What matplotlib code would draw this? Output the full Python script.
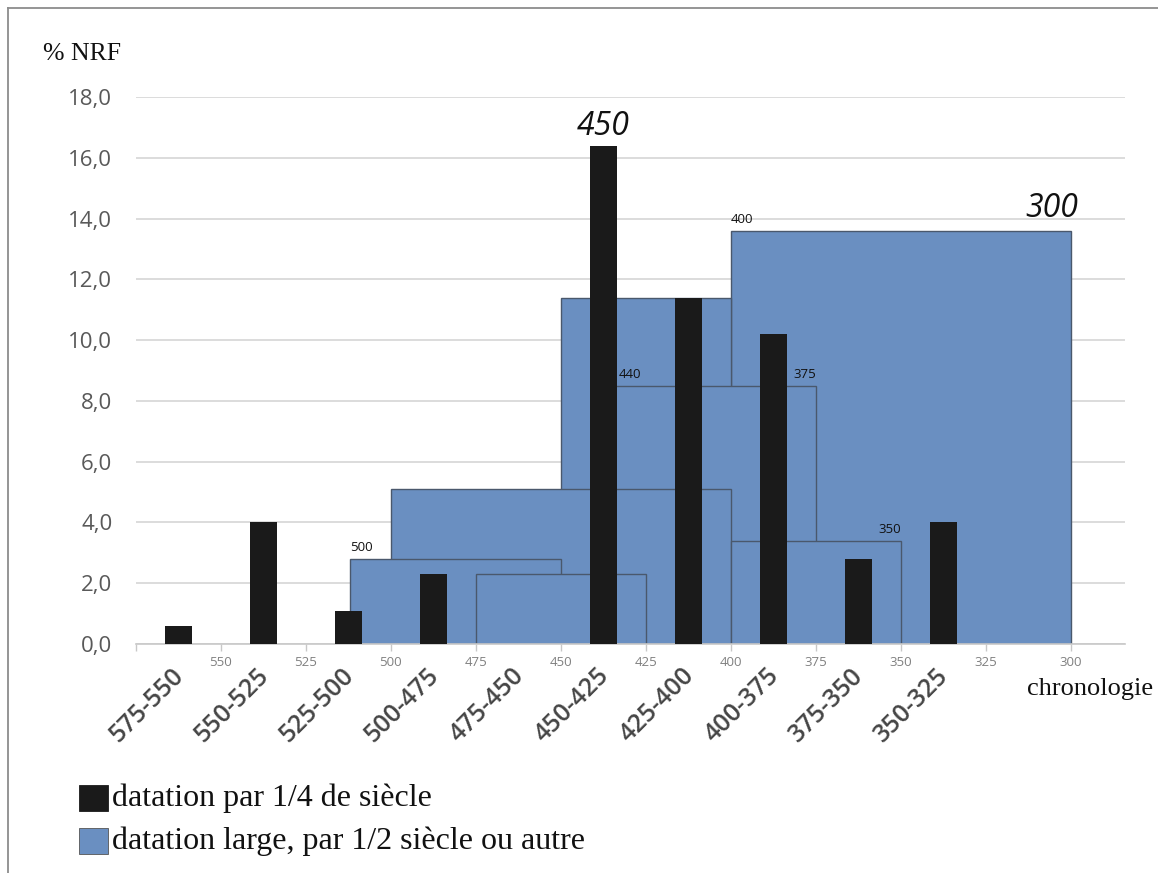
import matplotlib
matplotlib.use("Agg")
import matplotlib.pyplot as plt
from matplotlib.patches import Rectangle
from matplotlib.transforms import blended_transform_factory

# ---------------- data ----------------
periods = ['575-550', '550-525', '525-500', '500-475', '475-450',
           '450-425', '425-400', '400-375', '375-350', '350-325']
period_start = [575, 550, 525, 500, 475, 450, 425, 400, 375, 350]
period_end = [550, 525, 500, 475, 450, 425, 400, 375, 350, 325]
quarter_pct = [0.6, 4.0, 1.1, 2.3, 0.0, 16.4, 11.4, 10.2, 2.8, 4.0]

# broad datings (drawn in this order)
broad_start = [400, 450, 440, 500, 400, 512, 475]
broad_end = [300, 400, 375, 400, 350, 450, 425]
broad_pct = [13.6, 11.4, 8.5, 5.1, 3.4, 2.8, 2.3]

year_ticks = [575, 550, 525, 500, 475, 450, 425, 400, 375, 350, 325, 300]
year_ticklabels = ['', '550', '525', '500', '475', '450', '425', '400', '375', '350', '325', '300']
y_ticks = [0, 2, 4, 6, 8, 10, 12, 14, 16, 18]
y_ticklabels = ['0,0', '2,0', '4,0', '6,0', '8,0', '10,0', '12,0', '14,0', '16,0', '18,0']

legend_labels = ['datation par 1/4 de siècle', 'datation large, par 1/2 siècle ou autre']

# ---------------- style ----------------
BLUE = '#6a8fc1'
BLACK = '#1a1a1a'
EDGE = '#4a586c'
SANS = ['Open Sans', 'DejaVu Sans']
SERIF = ['Liberation Serif', 'DejaVu Serif']

W, H = 1158, 873
fig = plt.figure(figsize=(W / 100, H / 100), dpi=100)
fig.patch.set_facecolor('white')

def fx(px):
    return px / W

def fy(py):
    return 1 - py / H

ax = fig.add_axes([fx(136), fy(644), fx(1125) - fx(136), fy(97) - fy(644)])
ax.set_xlim(575, 284)
ax.set_ylim(0, 18)

for s in ['top', 'right', 'left']:
    ax.spines[s].set_visible(False)
ax.spines['bottom'].set_color('#c8c8c8')
ax.spines['bottom'].set_linewidth(1.2)

ax.set_yticks(y_ticks)
ax.set_yticklabels(y_ticklabels, family=SANS, fontsize=16, color='#595959')
ax.tick_params(axis='y', length=0, pad=17)
ax.set_xticks(year_ticks)
ax.set_xticklabels(year_ticklabels, family=SANS, fontsize=9.5, color='#808080')
ax.tick_params(axis='x', length=5, width=1, color='#c8c8c8', pad=4)
ax.grid(axis='y', color='#d9d9d9', linewidth=1.3)
ax.set_axisbelow(True)

# broad rectangles
for i, (a, b, v) in enumerate(zip(broad_start, broad_end, broad_pct)):
    ax.add_patch(Rectangle((b, 0), a - b, v, facecolor=BLUE, edgecolor=EDGE,
                           linewidth=1.0, zorder=2 + i * 0.01))

# quarter-century bars
centers = [(a + b) / 2 for a, b in zip(period_start, period_end)]
ax.bar(centers, quarter_pct, width=8.0, color=BLACK, zorder=3)

# small annotations on rectangles
small = dict(family=SANS, fontsize=9.5, color='#111111', zorder=5)
ax.text(400, 13.75, '400', ha='left', va='bottom', **small)
ax.text(433, 8.65, '440', ha='left', va='bottom', **small)
ax.text(375, 8.65, '375', ha='right', va='bottom', **small)
ax.text(350, 3.55, '350', ha='right', va='bottom', **small)
ax.text(512, 2.95, '500', ha='left', va='bottom', **small)

big = dict(family=SANS, fontsize=23, style='italic', color='#111111', zorder=5)
ax.text(437.5, 16.75, '450', ha='center', va='baseline', **big)
ax.text(305.5, 14.05, '300', ha='center', va='baseline', **big)

# rotated category labels
tr = blended_transform_factory(ax.transData, ax.transAxes)
for c, lab in zip(centers, periods):
    ax.text(c - 0.5, -0.0512, lab, transform=tr, rotation=45, rotation_mode='anchor',
            ha='right', va='center', family=SANS, fontsize=18, fontweight='semibold',
            color='#454545')

# axis titles
fig.text(fx(43), fy(60), '% NRF', family=SERIF, fontsize=18.5, color='#111111',
         ha='left', va='baseline')
fig.text(fx(1027), fy(695), 'chronologie', family=SERIF, fontsize=19, color='#111111',
         ha='left', va='baseline')

# legend
for k, (lab, col) in enumerate(zip(legend_labels, [BLACK, BLUE])):
    top = 785 + k * 43
    fig.add_artist(Rectangle((fx(79), fy(top + 26)), fx(108) - fx(79), fy(top) - fy(top + 26),
                             transform=fig.transFigure, facecolor=col,
                             edgecolor='#555555' if k else col, linewidth=0.6))
    fig.text(fx(112), fy(806 + k * 43), lab, family=SERIF, fontsize=23, color='#111111',
             ha='left', va='baseline')

# frame lines
fig.add_artist(plt.Line2D([fx(8), 1], [fy(8), fy(8)], color='#8c8c8c', linewidth=1.3,
                          transform=fig.transFigure))
fig.add_artist(plt.Line2D([fx(8), fx(8)], [fy(8), 0], color='#8c8c8c', linewidth=1.3,
                          transform=fig.transFigure))

fig.savefig('out.png', dpi=100)
